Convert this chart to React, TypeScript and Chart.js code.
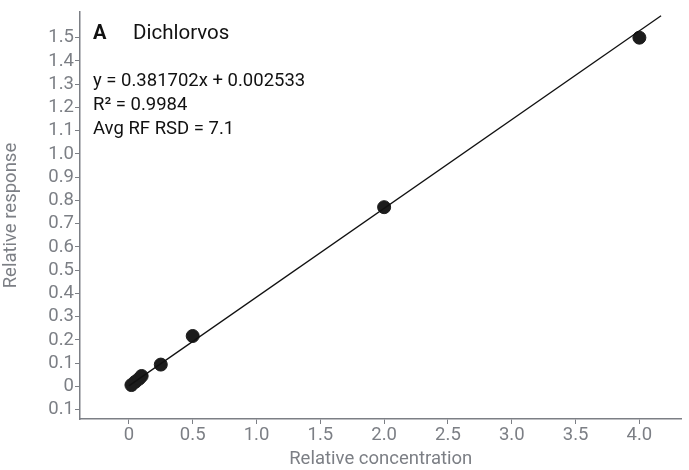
import { useEffect, useRef } from "react"
import { Chart, registerables } from "chart.js"

Chart.register(...registerables)

// Calibration points (relative concentration vs relative response)
const concentrations = [0.02, 0.05, 0.08, 0.1, 0.25, 0.5, 2.0, 4.0]
const responses = [0.006, 0.02, 0.033, 0.045, 0.094, 0.217, 0.771, 1.5]

// Fitted line: y = slope * x + intercept
const slope = 0.381702
const intercept = 0.002533
const fitRange = [0, 4.17]

const yTicks = [-0.1, 0, 0.1, 0.2, 0.3, 0.4, 0.5, 0.6, 0.7, 0.8, 0.9, 1.0, 1.1, 1.2, 1.3, 1.4, 1.5]
const xTicks = [0, 0.5, 1.0, 1.5, 2.0, 2.5, 3.0, 3.5, 4.0]

const annotationLines = ["y = 0.381702x + 0.002533", "R² = 0.9984", "Avg RF RSD = 7.1"]

const gray = "#7c7f85"
const font = "Roboto, 'Noto Sans', sans-serif"

const annotationPlugin = {
  id: "annotationText",
  afterDraw(chart: Chart) {
    const ctx = chart.ctx
    ctx.save()
    ctx.fillStyle = "#111"
    ctx.textBaseline = "middle"
    ctx.textAlign = "left"
    ctx.font = `bold 20px ${font}`
    ctx.fillText("A", 93, 34)
    ctx.font = `20.5px ${font}`
    ctx.fillText("Dichlorvos", 133, 34)
    ctx.font = `18.5px ${font}`
    annotationLines.forEach((line, i) => {
      ctx.fillText(line, 93, 81 + i * 24)
    })
    ctx.restore()
  },
}

export default function App() {
  const canvasRef = useRef<HTMLCanvasElement>(null)

  useEffect(() => {
    document.body.style.margin = "0"
    if (!canvasRef.current) return

    const chart = new Chart(canvasRef.current, {
      type: "scatter",
      data: {
        datasets: [
          {
            type: "line",
            data: fitRange.map((x) => ({ x, y: slope * x + intercept })),
            borderColor: "#111",
            borderWidth: 1.3,
            pointRadius: 0,
            fill: false,
          },
          {
            data: concentrations.map((x, i) => ({ x, y: responses[i] })),
            backgroundColor: "#1c1c1c",
            borderColor: "#1c1c1c",
            pointRadius: 6.5,
          },
        ],
      },
      options: {
        animation: false,
        responsive: false,
        layout: { padding: { top: 7, right: 0, left: 0, bottom: 0 } },
        plugins: { legend: { display: false }, tooltip: { enabled: false } },
        scales: {
          x: {
            type: "linear",
            min: -0.383,
            max: 4.33,
            afterBuildTicks: (scale) => {
              scale.ticks = xTicks.map((value) => ({ value }))
            },
            afterFit: (scale) => {
              scale.height = 51
            },
            ticks: {
              color: gray,
              font: { family: font, size: 18.5 },
              padding: 0,
              callback: (v) => (Number(v) === 0 ? "0" : Number(v).toFixed(1)),
            },
            grid: { drawOnChartArea: false, color: gray, tickLength: 5 },
            border: { color: gray, width: 1.5 },
            title: {
              display: true,
              text: "Relative concentration",
              color: gray,
              font: { family: font, size: 18.5 },
              padding: { top: 2, bottom: 0 },
            },
          },
          y: {
            type: "linear",
            min: -0.14,
            max: 1.61,
            afterBuildTicks: (scale) => {
              scale.ticks = yTicks.map((value) => ({ value }))
            },
            afterFit: (scale) => {
              scale.width = 80
            },
            ticks: {
              color: gray,
              font: { family: font, size: 18.5 },
              padding: 1,
              callback: (v) => {
                const n = Math.abs(Number(v))
                return n < 1e-9 ? "0" : n.toFixed(1)
              },
            },
            grid: { drawOnChartArea: false, color: gray, tickLength: 5 },
            border: { color: gray, width: 1.5 },
            title: {
              display: true,
              text: "Relative response",
              color: gray,
              font: { family: font, size: 18.5 },
              padding: { top: 0, bottom: 0 },
            },
          },
        },
      },
      plugins: [annotationPlugin],
    })

    return () => chart.destroy()
  }, [])

  return <canvas ref={canvasRef} width={689} height={470} style={{ display: "block" }} />
}
